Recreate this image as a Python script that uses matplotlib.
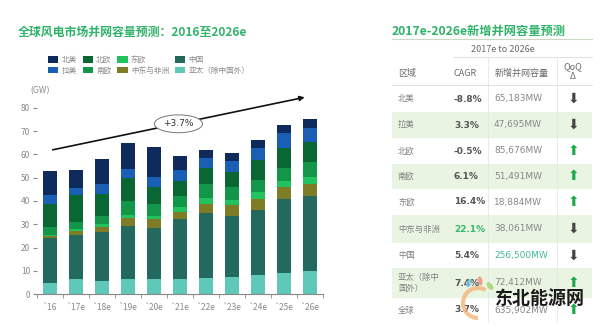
import numpy as np
import matplotlib
matplotlib.use("Agg")
import matplotlib.pyplot as plt
from matplotlib.patches import Rectangle, Arc, Ellipse

plt.rcParams["font.family"] = ["Noto Sans CJK SC", "DejaVu Sans"]

# ---- data ----
years = ["`16", "`17e", "`18e", "`19e", "`20e", "`21e", "`22e", "`23e", "`24e", "`25e", "`26e"]

# stacked bottom -> top
apac    = [4.8, 6.4, 5.6, 6.4, 6.4, 6.4, 7.0, 7.5, 8.2, 9.0, 9.8]
china   = [19.4, 18.9, 20.9, 22.8, 22.1, 25.8, 27.9, 26.0, 27.8, 32.0, 32.5]
mea     = [0.7, 1.7, 2.4, 3.3, 3.6, 3.1, 4.0, 4.7, 5.0, 4.9, 4.8]
east_eu = [0.7, 0.8, 1.4, 1.4, 1.4, 2.1, 2.3, 2.4, 2.7, 2.6, 3.2]
south_eu = [3.3, 3.0, 3.3, 6.0, 5.1, 4.6, 5.9, 5.4, 5.4, 5.5, 6.4]
north_eu = [9.7, 11.6, 9.4, 9.9, 7.4, 6.5, 6.9, 6.3, 8.3, 8.8, 8.5]
latam   = [4.1, 3.2, 4.3, 4.0, 4.3, 4.6, 4.5, 5.0, 5.4, 6.3, 6.0]
namer   = [10.0, 7.8, 10.7, 11.2, 12.8, 6.0, 3.3, 3.1, 3.4, 3.4, 3.8]

series = [
    ("亚太（除中国外）", apac, "#5fc8b8"),
    ("中国", china, "#24695e"),
    ("中东与非洲", mea, "#7d7d28"),
    ("东欧", east_eu, "#22c35e"),
    ("南欧", south_eu, "#13964a"),
    ("北欧", north_eu, "#0a6632"),
    ("拉美", latam, "#1a5fb4"),
    ("北美", namer, "#0f2b5b"),
]

# table
regions = ["北美", "拉美", "北欧", "南欧", "东欧", "中东与非洲", "中国", "亚太（除中\n国外）", "全球"]
cagr    = ["-8.8%", "3.3%", "-0.5%", "6.1%", "16.4%", "22.1%", "5.4%", "7.4%", "3.7%"]
added   = ["65,183MW", "47,695MW", "85,676MW", "51,491MW", "18,884MW",
           "38,061MW", "256,500MW", "72,412MW", "635,902MW"]
qoq     = ["down", "down", "up", "up", "up", "down", "down", "up", "up"]

green_t = "#2fb26a"
grey = "#6a6a6a"

fig = plt.figure(figsize=(6, 3.25), dpi=100)
fig.patch.set_facecolor("white")

# overlay in pixel coords for text / table
ov = fig.add_axes([0, 0, 1, 1])
ov.set_xlim(0, 600)
ov.set_ylim(325, 0)
ov.axis("off")

ax = fig.add_axes([37 / 600, 1 - 294.3 / 325, (323 - 37) / 600, (294.3 - 107.7) / 325])

x = np.arange(len(years))
bottom = np.zeros(len(years))
handles = {}
for name, vals, col in series:
    b = ax.bar(x, vals, bottom=bottom, width=0.54, color=col, edgecolor="none", zorder=2)
    handles[name] = b
    bottom += np.array(vals)

ax.set_xlim(-0.5, 10.5)
ax.set_ylim(0, 80)
ax.set_yticks(range(0, 81, 10))
ax.set_xticks(x)
ax.set_xticklabels(years)
ax.set_xticks(np.arange(-0.5, 11, 1), minor=True)
ax.tick_params(axis="x", which="major", length=0, labelsize=6, colors="#888888", pad=6)
ax.tick_params(axis="x", which="minor", length=3, color="#888888")
ax.tick_params(axis="y", length=3, labelsize=6, colors="#888888", pad=2)
for s in ["top", "right", "left"]:
    ax.spines[s].set_visible(False)
ax.spines["bottom"].set_color("#888888")
ax.spines["bottom"].set_linewidth(0.8)

# growth arrow
ax.annotate("", xy=(9.9, 84.7), xytext=(0, 61.7),
            arrowprops=dict(arrowstyle="-|>", color="#111111", lw=1.2, mutation_scale=7),
            annotation_clip=False, zorder=5)
ax.text(4.94, 73.1, "+3.7%", ha="center", va="center", fontsize=6.5, color="#333333",
        family="DejaVu Sans", zorder=6,
        bbox=dict(boxstyle="ellipse,pad=0.2", fc="white", ec="#777777", lw=0.7))

ov.text(30, 91, "(GW)", fontsize=5.5, color="#888888", ha="left", va="center", family="DejaVu Sans")

# titles
ov.text(18, 32, "全球风电市场并网容量预测：2016至2026e", fontsize=8.6, color=green_t,
        fontweight="bold", ha="left", va="center")
ov.text(392, 31, "2017e-2026e新增并网容量预测", fontsize=8.8, color=green_t,
        fontweight="bold", ha="left", va="center")

# legend
order = ["北美", "拉美", "北欧", "南欧", "东欧", "中东与非洲", "中国", "亚太（除中国外）"]
fig.legend([handles[n] for n in order], order, ncol=4, loc="upper left",
           bbox_to_anchor=(48 / 600, 1 - 56 / 325), frameon=False, fontsize=5.5,
           handlelength=1.35, handleheight=0.9, handletextpad=0.4, columnspacing=0.8,
           labelspacing=0.35, borderpad=0, borderaxespad=0, labelcolor="#888888")

# ---- table ----
tx0, tx1 = 392, 592
line_c = "#d9dfd6"
ov.plot([tx0, tx1], [39, 39], color="#c9d8c2", lw=0.8)
ov.plot([453, tx1], [57, 57], color=line_c, lw=0.6)
ov.plot([tx0, tx1], [85, 85], color=line_c, lw=0.6)
ov.text(503, 49, "2017e to 2026e", fontsize=6.5, color=grey, ha="center", va="center")
ov.text(398, 73, "区域", fontsize=6.5, color=grey, ha="left", va="center")
ov.text(453, 73, "CAGR", fontsize=6.5, color=grey, ha="left", va="center")
ov.text(495, 73, "新增并网容量", fontsize=6.5, color=grey, ha="left", va="center")
ov.text(573, 72, "QoQ\nΔ", fontsize=6.5, color=grey, ha="center", va="center", linespacing=1.1)

row_edges = [86, 112, 138, 164, 189, 215, 243, 268, 298, 322]
for i, reg in enumerate(regions):
    y0, y1 = row_edges[i], row_edges[i + 1]
    yc = (y0 + y1) / 2
    if i % 2 == 1:
        ov.add_patch(Rectangle((tx0, y0), tx1 - tx0, y1 - y0, fc="#e9f4e3", ec="none", zorder=0))
    ov.text(398, yc, reg, fontsize=6, color="#808080", ha="left", va="center", linespacing=1.3)
    ccol = "#35b870" if cagr[i] == "22.1%" else "#555555"
    ov.text(454, yc, cagr[i], fontsize=6.5, color=ccol, fontweight="bold", ha="left", va="center",
            family="DejaVu Sans")
    acol = "#45b89a" if added[i] == "256,500MW" else "#888888"
    ov.text(494, yc, added[i], fontsize=6.5, color=acol, ha="left", va="center", family="DejaVu Sans")
    if qoq[i] == "up":
        ov.text(573, yc, "⬆", fontsize=10, color="#1faa4a", ha="center", va="center", family="DejaVu Sans")
    else:
        ov.text(573, yc, "⬇", fontsize=10, color="#444444", ha="center", va="center", family="DejaVu Sans")

for vx in [488, 557]:
    ov.plot([vx, vx], [57, 322], color="#e6e6e6", lw=0.6, zorder=1)

# watermark
ov.add_patch(Arc((478, 303), 30, 30, theta1=90, theta2=300, color="#f4b37a", lw=3, alpha=0.8, zorder=4))
ov.add_patch(Ellipse((469, 283), 5, 9, angle=20, fc="#7fc6e8", ec="none", alpha=0.8, zorder=4))
ov.add_patch(Ellipse((480, 281), 5, 9, angle=-10, fc="#f08a7a", ec="none", alpha=0.8, zorder=4))
ov.add_patch(Ellipse((490, 286), 5, 9, angle=-40, fc="#9fd36a", ec="none", alpha=0.8, zorder=4))
ov.text(540, 298, "东北能源网", fontsize=13, color="#1a1a1a", fontweight="bold",
        ha="center", va="center", zorder=5)

fig.savefig("out.png", dpi=100)
